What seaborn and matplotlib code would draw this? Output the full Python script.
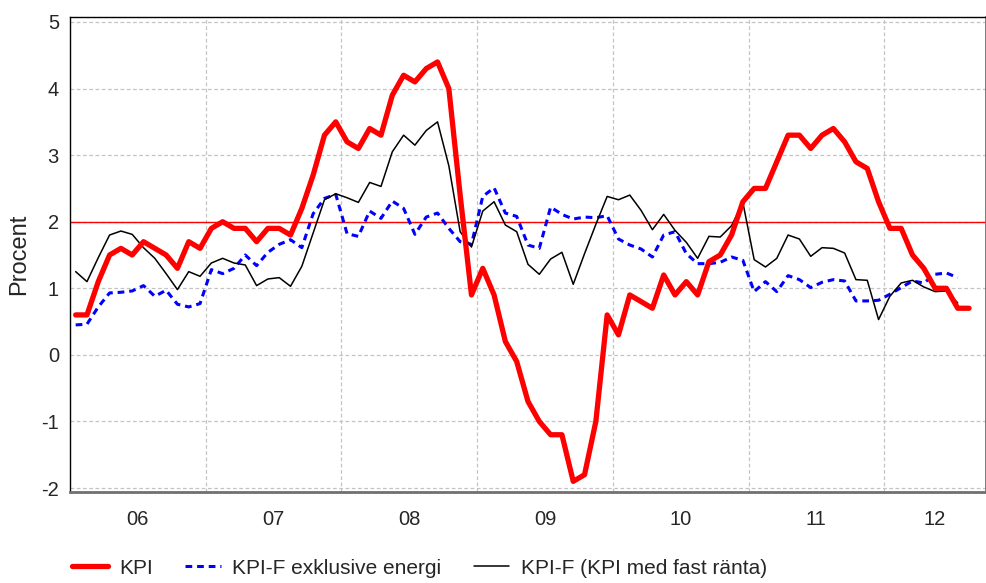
import numpy as np
import pandas as pd
import matplotlib
matplotlib.use("Agg")
import matplotlib.pyplot as plt
import seaborn as sns

# Monthly figures Jan 2006 - Aug 2012, annual percentage change
kpi = [0.6, 0.6, 1.1, 1.5, 1.6, 1.5, 1.7, 1.6, 1.5, 1.3, 1.7, 1.6,
       1.9, 2.0, 1.9, 1.9, 1.7, 1.9, 1.9, 1.8, 2.2, 2.7, 3.3, 3.5,
       3.2, 3.1, 3.4, 3.3, 3.9, 4.2, 4.1, 4.3, 4.4, 4.0, 2.4, 0.9,
       1.3, 0.9, 0.2, -0.1, -0.7, -1.0, -1.2, -1.2, -1.9, -1.8, -1.0, 0.6,
       0.3, 0.9, 0.8, 0.7, 1.2, 0.9, 1.1, 0.9, 1.4, 1.5, 1.8, 2.3,
       2.5, 2.5, 2.9, 3.3, 3.3, 3.1, 3.3, 3.4, 3.2, 2.9, 2.8, 2.3,
       1.9, 1.9, 1.5, 1.3, 1.0, 1.0, 0.7, 0.7]

kpif_exkl_energi = [0.45, 0.46, 0.72, 0.93, 0.94, 0.96, 1.04, 0.88, 0.97, 0.76, 0.72, 0.77,
                    1.28, 1.22, 1.30, 1.50, 1.34, 1.54, 1.66, 1.73, 1.61, 2.12, 2.35, 2.41,
                    1.82, 1.78, 2.16, 2.05, 2.31, 2.20, 1.81, 2.07, 2.13, 1.90, 1.70, 1.66,
                    2.38, 2.51, 2.13, 2.08, 1.65, 1.60, 2.22, 2.11, 2.04, 2.07, 2.06, 2.09,
                    1.74, 1.65, 1.59, 1.47, 1.80, 1.85, 1.52, 1.37, 1.37, 1.39, 1.47, 1.42,
                    0.95, 1.10, 0.95, 1.19, 1.13, 1.01, 1.09, 1.13, 1.11, 0.81, 0.81, 0.82,
                    0.91, 1.01, 1.11, 1.08, 1.21, 1.23, 1.16]

kpif = [1.25, 1.10, 1.46, 1.80, 1.86, 1.81, 1.61, 1.45, 1.22, 0.98, 1.25, 1.18,
        1.38, 1.45, 1.38, 1.35, 1.04, 1.14, 1.16, 1.03, 1.33, 1.83, 2.33, 2.42,
        2.36, 2.29, 2.59, 2.53, 3.05, 3.30, 3.15, 3.37, 3.50, 2.84, 1.85, 1.62,
        2.16, 2.30, 1.95, 1.85, 1.36, 1.21, 1.44, 1.54, 1.06, 1.52, 1.96, 2.38,
        2.33, 2.40, 2.17, 1.88, 2.11, 1.87, 1.69, 1.45, 1.78, 1.77, 1.94, 2.29,
        1.43, 1.32, 1.45, 1.80, 1.74, 1.48, 1.61, 1.60, 1.53, 1.13, 1.12, 0.53,
        0.88, 1.08, 1.12, 1.02, 0.95, 0.96, 0.78]

year_labels = ["06", "07", "08", "09", "10", "11", "12"]
target = 2

sns.set_style("white")
plt.rcParams["font.family"] = ["Liberation Sans", "DejaVu Sans"]

# month position: middle of each month, 0 = start of Jan 2006
df1 = pd.DataFrame({"m": np.arange(len(kpi)) + 0.5, "v": kpi})
df2 = pd.DataFrame({"m": np.arange(len(kpif_exkl_energi)) + 0.5, "v": kpif_exkl_energi})
df3 = pd.DataFrame({"m": np.arange(len(kpif)) + 0.5, "v": kpif})

fig = plt.figure(figsize=(9.87, 5.83), dpi=100)
ax = fig.add_axes([70 / 987, 1 - 492 / 583, 916 / 987, 475 / 583])

n_months = len(year_labels) * 12 - 3
ax.set_xlim(0, n_months)
ax.set_ylim(-2.06, 5.075)

# grid
for y in range(-2, 6):
    ax.axhline(y, color="#c4c4c4", lw=0.9, ls=(0, (3, 2)), zorder=0)
for yr in range(1, len(year_labels)):
    ax.axvline(yr * 12, color="#c4c4c4", lw=0.9, ls=(0, (3, 2)), zorder=0)

ax.axhline(target, color="red", lw=1.0, zorder=1)

sns.lineplot(data=df1, x="m", y="v", ax=ax, color="red", lw=3.8,
             label="KPI", zorder=3)
sns.lineplot(data=df2, x="m", y="v", ax=ax, color="blue", lw=2.2,
             label="KPI-F exklusive energi", zorder=2)
sns.lineplot(data=df3, x="m", y="v", ax=ax, color="black", lw=1.1,
             label="KPI-F (KPI med fast ränta)", zorder=2)
ax.lines[-2].set_dashes((2.2, 1.6))

ax.set_xlabel("")
ax.set_ylabel("Procent", fontsize=17, labelpad=8)

ax.set_yticks(range(-2, 6))
ax.set_yticklabels([str(v) for v in range(-2, 6)], fontsize=14.5)
ax.tick_params(axis="y", direction="out", length=3, width=0.8, pad=5, color="black")

ax.set_xticks([12 * i for i in range(len(year_labels))])
ax.set_xticklabels([])
ax.tick_params(axis="x", which="major", direction="out", length=6, width=1.2, color="#606060")
centers = [12 * i + 6 for i in range(len(year_labels) - 1)] + [(72 + n_months) / 2]
ax.set_xticks(centers, minor=True)
ax.set_xticklabels(year_labels, minor=True, fontsize=14.5)
ax.tick_params(axis="x", which="minor", length=0, pad=13)

for s in ["top", "left"]:
    ax.spines[s].set_color("black")
    ax.spines[s].set_linewidth(1.0)
for s in ["bottom", "right"]:
    ax.spines[s].set_color("#707070")
    ax.spines[s].set_linewidth(2.0)

handles, labels = ax.get_legend_handles_labels()
ax.get_legend().remove()
fig.legend(handles, labels, loc="center left", bbox_to_anchor=(0.065, 1 - 568 / 583),
           ncol=3, frameon=False, fontsize=15, handlelength=1.7,
           handletextpad=0.55, columnspacing=1.55, borderaxespad=0)

fig.savefig("out.png", dpi=100)
